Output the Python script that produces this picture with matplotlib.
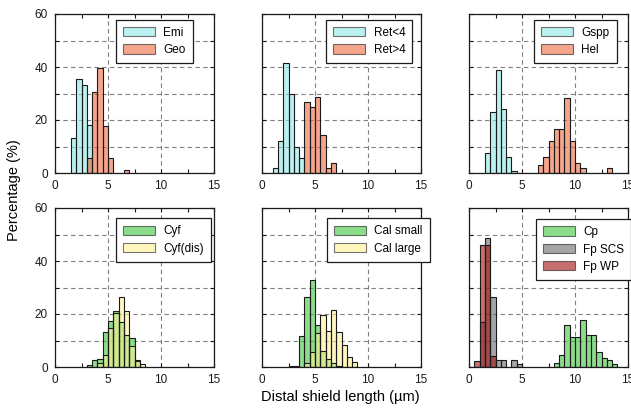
import matplotlib
matplotlib.use("Agg")
import matplotlib.pyplot as plt
from matplotlib.patches import Patch
from matplotlib.ticker import MultipleLocator, FixedLocator

plt.rcParams['font.family'] = ['Liberation Sans', 'DejaVu Sans']

BIN_W = 0.5

# ---- data: bin left edges (µm) and percentages ----
emi_bins = [1.5, 2.0, 2.5, 3.0]
emi_pct = [13.3, 35.4, 33.1, 18.2]
geo_bins = [3.0, 3.5, 4.0, 4.5, 5.0, 6.5]
geo_pct = [5.6, 30.4, 39.8, 17.6, 5.6, 1.0]

retlt4_bins = [1.0, 1.5, 2.0, 2.5, 3.0, 3.5]
retlt4_pct = [1.9, 12.0, 41.5, 29.8, 10.0, 5.7]
retgt4_bins = [4.0, 4.5, 5.0, 5.5, 6.0, 6.5]
retgt4_pct = [26.8, 25.0, 28.7, 14.4, 2.0, 3.8]

gspp_bins = [1.5, 2.0, 2.5, 3.0, 3.5, 4.0]
gspp_pct = [7.7, 22.9, 38.9, 24.2, 5.9, 0.8]
hel_bins = [6.5, 7.0, 7.5, 8.0, 8.5, 9.0, 9.5, 10.0, 10.5, 13.0]
hel_pct = [2.9, 5.9, 12.2, 16.5, 16.5, 28.4, 12.2, 3.6, 1.8, 1.8]

cyf_bins = [3.0, 3.5, 4.0, 4.5, 5.0, 5.5, 6.0, 6.5, 7.0, 7.5]
cyf_pct = [0.6, 2.6, 3.1, 13.3, 17.5, 21.0, 17.0, 12.0, 11.0, 2.4]
cyfdis_bins = [4.0, 4.5, 5.0, 5.5, 6.0, 6.5, 7.0, 7.5, 8.0]
cyfdis_pct = [1.6, 4.5, 14.6, 20.5, 26.5, 21.0, 8.0, 2.5, 1.2]

calsmall_bins = [2.5, 3.0, 3.5, 4.0, 4.5, 5.0, 5.5, 6.0, 6.5, 7.0]
calsmall_pct = [0.5, 0.5, 11.8, 26.5, 33.0, 16.0, 6.0, 3.0, 1.5, 0.5]
callarge_bins = [4.0, 4.5, 5.0, 5.5, 6.0, 6.5, 7.0, 7.5, 8.0, 8.5]
callarge_pct = [1.5, 5.5, 13.0, 19.5, 13.5, 21.4, 13.2, 8.2, 3.8, 1.9]

cp_bins = [8.0, 8.5, 9.0, 9.5, 10.0, 10.5, 11.0, 11.5, 12.0, 12.5, 13.0, 13.5]
cp_pct = [1.6, 4.4, 15.7, 11.3, 11.3, 17.6, 12.2, 12.2, 5.7, 3.4, 2.8, 1.0]
fpscs_bins = [1.0, 1.5, 2.0, 2.5, 3.0, 4.0, 4.5]
fpscs_pct = [17.0, 48.5, 26.3, 2.5, 2.5, 2.5, 1.0]
fpwp_bins = [0.5, 1.0, 1.5, 2.0]
fpwp_pct = [2.3, 46.0, 46.0, 4.0]

x_ticks = [0, 5, 10, 15]
y_ticks = [0, 20, 40, 60]

C_CYAN = '#8ce6e6'
C_SALMON = '#ee693f'
C_GREEN = '#3fc53f'
C_YELLOW = '#fff393'
C_GRAY = '#696969'
C_RED = '#a30d0d'

panels = [
    [("Emi", emi_bins, emi_pct, C_CYAN), ("Geo", geo_bins, geo_pct, C_SALMON)],
    [("Ret<4", retlt4_bins, retlt4_pct, C_CYAN), ("Ret>4", retgt4_bins, retgt4_pct, C_SALMON)],
    [("Gspp", gspp_bins, gspp_pct, C_CYAN), ("Hel", hel_bins, hel_pct, C_SALMON)],
    [("Cyf", cyf_bins, cyf_pct, C_GREEN), ("Cyf(dis)", cyfdis_bins, cyfdis_pct, C_YELLOW)],
    [("Cal small", calsmall_bins, calsmall_pct, C_GREEN), ("Cal large", callarge_bins, callarge_pct, C_YELLOW)],
    [("Cp", cp_bins, cp_pct, C_GREEN), ("Fp SCS", fpscs_bins, fpscs_pct, C_GRAY), ("Fp WP", fpwp_bins, fpwp_pct, C_RED)],
]

W, H = 631, 412
fig = plt.figure(figsize=(W / 100, H / 100), dpi=100)

col_left = [55, 262, 469]
row_top = [14, 208]
aw, ah = 159, 159
legend_anchor = [(0.385, 0.965), (0.405, 0.965), (0.41, 0.965),
                 (0.385, 0.935), (0.41, 0.935), (0.42, 0.93)]

for i, series in enumerate(panels):
    r, c = divmod(i, 3)
    left = col_left[c] / W
    bottom = (H - row_top[r] - ah) / H
    ax = fig.add_axes([left, bottom, aw / W, ah / H])
    handles = []
    for name, bins, pct, col in series:
        ax.bar(bins, pct, width=BIN_W, align='edge', color=col, alpha=0.6,
               edgecolor='none', zorder=2)
        ax.bar(bins, pct, width=BIN_W, align='edge', facecolor='none',
               edgecolor='#1a1a1a', linewidth=0.8, zorder=3)
        handles.append(Patch(facecolor=col, alpha=0.6, edgecolor='#1a1a1a', linewidth=0.8))
    ax.set_xlim(0, 15)
    ax.set_ylim(0, 60)
    ax.xaxis.set_major_locator(FixedLocator(x_ticks))
    ax.xaxis.set_minor_locator(FixedLocator([2.5, 7.5, 12.5]))
    ax.yaxis.set_major_locator(FixedLocator(y_ticks))
    ax.yaxis.set_minor_locator(FixedLocator([10, 30, 50]))
    ax.grid(True, which='major', axis='both', linestyle=(0, (4, 3)), color='#808080', linewidth=0.8, zorder=1)
    ax.grid(True, which='minor', axis='y', linestyle=(0, (4, 3)), color='#808080', linewidth=0.8, zorder=1)
    ax.set_axisbelow(True)
    ax.tick_params(which='both', direction='in', top=True, right=True, length=3, width=0.8,
                   labelsize=8.5, colors='#1a1a1a', pad=5)
    ax.tick_params(which='minor', length=3)
    if c != 0:
        ax.set_yticklabels([])
    for sp in ax.spines.values():
        sp.set_color('#1a1a1a')
        sp.set_linewidth(0.9)
    # strip shared axis labels
    leg = ax.legend(handles, [s[0] for s in series], loc='upper left',
                    bbox_to_anchor=legend_anchor[i], borderaxespad=0,
                    fontsize=8.5, frameon=True, fancybox=False, handlelength=2.7,
                    handleheight=0.85, handletextpad=0.7, labelspacing=0.45,
                    borderpad=0.6)
    leg.get_frame().set_edgecolor('#1a1a1a')
    leg.get_frame().set_linewidth(0.9)
    leg.get_frame().set_alpha(1)
    leg.set_zorder(10)

fig.text(14 / W, 1 - 190 / H, "Percentage (%)", rotation=90, ha='center', va='center', fontsize=10.5)
fig.text(340 / W, 1 - 397 / H, "Distal shield length (µm)", ha='center', va='center', fontsize=10.5)

fig.savefig("out.png", dpi=100)
